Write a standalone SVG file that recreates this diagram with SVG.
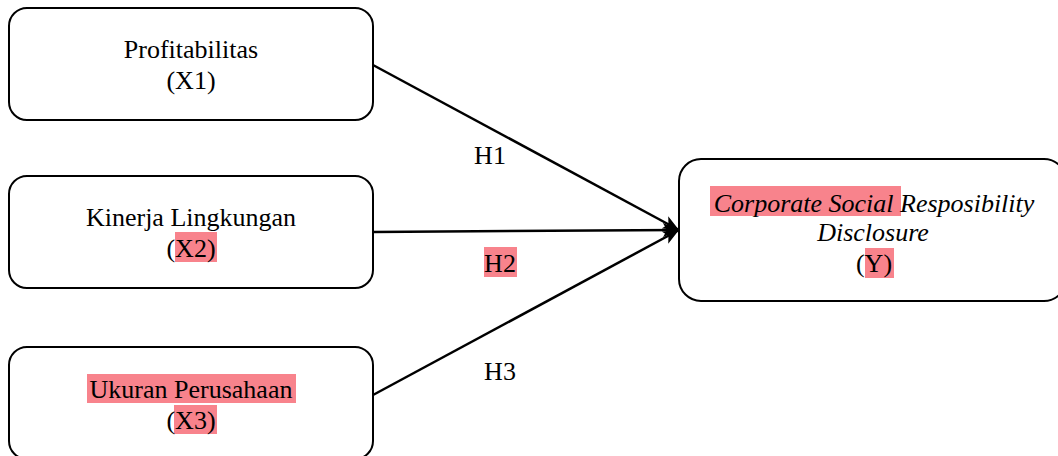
<svg xmlns="http://www.w3.org/2000/svg" width="1058" height="456" viewBox="0 0 1058 456">
<style>
.box{fill:#fff;stroke:#000;stroke-width:2}
.t{font-family:"Liberation Serif","Times New Roman",serif;font-size:26px;fill:#000;text-anchor:middle}
.i{font-style:italic}
.hl{fill:#F8838C}
.c{stroke:#000;stroke-width:2.5;fill:none;marker-end:url(#ah)}
</style>
<defs>
<marker id="ah" markerUnits="userSpaceOnUse" markerWidth="18" markerHeight="14" refX="16" refY="7" orient="auto">
<path d="M0,0 L16,7 L0,14 L4,7 Z" fill="#000"/>
</marker>
</defs>
<rect width="1058" height="456" fill="#fff"/>
<g id="connectors">
<line class="c" x1="373" y1="65" x2="679" y2="230"/>
<line class="c" x1="373" y1="232" x2="679" y2="230"/>
<line class="c" x1="373" y1="395" x2="679" y2="230"/>
<text class="t" x="490" y="164">H1</text>
<rect class="hl" x="484" y="247" width="33" height="30"/>
<text class="t" x="500" y="272">H2</text>
<text class="t" x="500" y="380">H3</text>
</g>
<g id="x1">
<rect class="box" x="9" y="8" width="364" height="112" rx="18"/>
<text class="t" x="191" y="58">Profitabilitas</text>
<text class="t" x="191" y="89">(X1)</text>
</g>
<g id="x2">
<rect class="box" x="9" y="176" width="364" height="112" rx="18"/>
<text class="t" x="191" y="226">Kinerja Lingkungan</text>
<rect class="hl" x="175" y="232" width="42" height="30"/>
<text class="t" x="191" y="257">(X2)</text>
</g>
<g id="x3">
<rect class="box" x="9" y="347" width="364" height="112" rx="18"/>
<rect class="hl" x="87" y="374" width="209" height="29"/>
<text class="t" x="191" y="398">Ukuran Perusahaan</text>
<rect class="hl" x="174" y="405" width="43" height="29"/>
<text class="t" x="191" y="429">(X3)</text>
</g>
<g id="y">
<rect class="box" x="679" y="159" width="387" height="142" rx="22"/>
<rect class="hl" x="710" y="186" width="191" height="30"/>
<text class="t i" x="874" y="212">Corporate Social Resposibility</text>
<text class="t i" x="873" y="241">Disclosure</text>
<rect class="hl" x="865" y="248" width="29" height="30"/>
<text class="t" x="874" y="272">(Y)</text>
</g>
</svg>
